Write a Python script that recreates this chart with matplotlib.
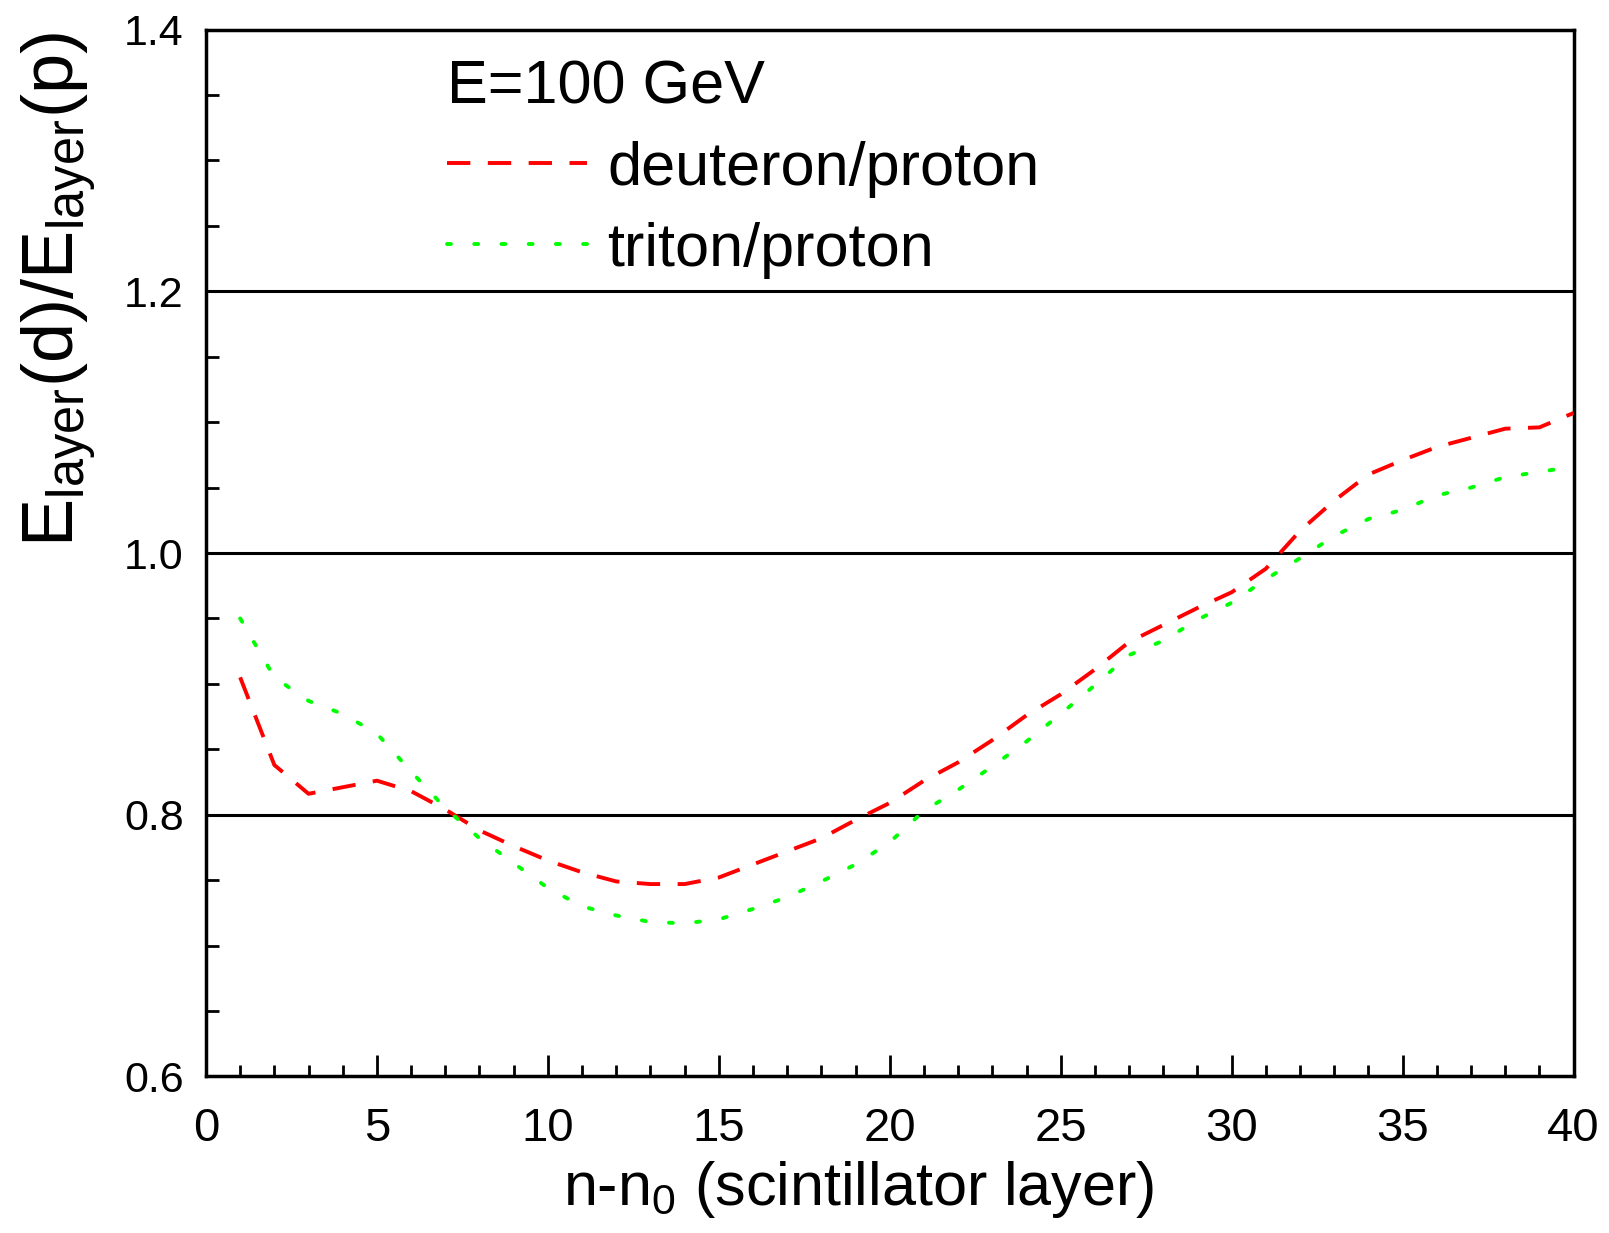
import matplotlib
matplotlib.use("Agg")
import matplotlib.pyplot as plt
from matplotlib.ticker import MultipleLocator

plt.rcParams.update({
    "font.family": ["Liberation Sans", "DejaVu Sans"],
    "mathtext.fontset": "custom",
    "mathtext.rm": "Liberation Sans",
    "mathtext.it": "Liberation Sans",
})

# ── data ──────────────────────────────────────────────────────────────────
layer = list(range(1, 41))
deuteron = [0.905, 0.838, 0.816, 0.821, 0.826, 0.818, 0.804, 0.788, 0.776, 0.765,
            0.756, 0.749, 0.747, 0.747, 0.752, 0.762, 0.772, 0.782, 0.796, 0.809,
            0.826, 0.840, 0.857, 0.876, 0.892, 0.911, 0.932, 0.945, 0.958, 0.970,
            0.988, 1.017, 1.040, 1.060, 1.071, 1.081, 1.088, 1.095, 1.096, 1.107]
triton = [0.950, 0.905, 0.887, 0.877, 0.862, 0.833, 0.805, 0.782, 0.763, 0.744,
          0.730, 0.723, 0.718, 0.717, 0.720, 0.728, 0.737, 0.749, 0.762, 0.779,
          0.803, 0.819, 0.837, 0.856, 0.877, 0.899, 0.922, 0.933, 0.949, 0.962,
          0.980, 0.996, 1.013, 1.026, 1.033, 1.044, 1.050, 1.058, 1.062, 1.066]
ref_lines = [0.8, 1.0, 1.2]

fig, ax = plt.subplots(figsize=(16.09, 12.33), dpi=100)
fig.subplots_adjust(left=0.128, right=0.978, bottom=0.127, top=0.976)

for yv in ref_lines:
    ax.axhline(yv, color="black", lw=2.2, zorder=1)

ax.plot(layer, deuteron, color="#ff0000", lw=2.8, ls=(0, (6, 4.5)),
        label="deuteron/proton", zorder=3)
ax.plot(layer, triton, color="#00ff00", lw=2.8, ls=(0, (1, 6)),
        dash_capstyle="round", label="triton/proton", zorder=3)

ax.set_xlim(0, 40)
ax.set_ylim(0.6, 1.4)
ax.xaxis.set_major_locator(MultipleLocator(5))
ax.xaxis.set_minor_locator(MultipleLocator(1))
ax.yaxis.set_major_locator(MultipleLocator(0.2))
ax.yaxis.set_minor_locator(MultipleLocator(0.05))
ax.yaxis.set_major_formatter(plt.FuncFormatter(lambda v, p: f"{v:.1f}"))

for sp in ax.spines.values():
    sp.set_linewidth(2.5)

ax.tick_params(axis="x", which="major", direction="in", length=15, width=2,
               labelsize=34, pad=22, top=False)
ax.tick_params(axis="x", which="minor", direction="in", length=8, width=2, top=False)
ax.tick_params(axis="y", which="major", direction="in", length=9, width=2,
               labelsize=31, pad=16, right=False)
ax.tick_params(axis="y", which="minor", direction="in", length=9, width=2, right=False)

ax.set_xlabel(r"n-n$_0$ (scintillator layer)", fontsize=44, labelpad=6)
ax.xaxis.label.set_x(0.477)
ax.set_ylabel(r"E$_{\mathrm{layer}}$(d)/E$_{\mathrm{layer}}$(p)", fontsize=52)
ax.yaxis.set_label_coords(-0.079, 0.752)

leg = ax.legend(title="E=100 GeV", title_fontsize=44, fontsize=44, frameon=False,
                loc="upper left", bbox_to_anchor=(0.176, 0.971), alignment="left",
                handlelength=2.29, handletextpad=0.34, labelspacing=0.39, borderpad=0,
                borderaxespad=0)

fig.savefig("out.png", dpi=100)
